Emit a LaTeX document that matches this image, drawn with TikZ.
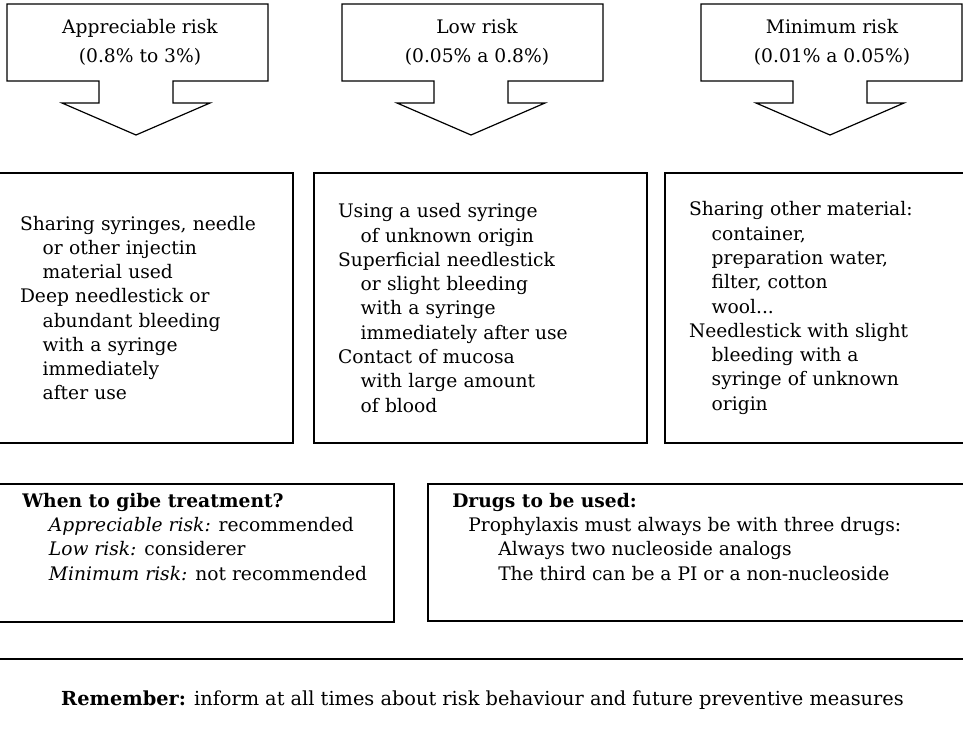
\documentclass[tikz,border=0pt]{standalone}
\usepackage{fontspec}
\setmainfont{DejaVu Serif}

\newcommand\bodyfont{\fontsize{14}{18.2}\selectfont}
\newcommand\headfont{\fontsize{14}{21.75}\selectfont}
\newcommand\ind{\hspace*{17pt}}

\tikzset{
  frame/.style={draw, line width=0.9pt},
  riskbox/.style={frame, minimum height=202.5pt, inner xsep=18pt, align=left, font=\bodyfont},
  headtext/.style={align=center, font=\headfont},
  note/.style={anchor=north west, inner sep=0pt, align=left, font=\bodyfont}
}

\begin{document}
\begin{tikzpicture}[x=0.75pt, y=-0.75pt]
    \useasboundingbox (0,0) rectangle (963,738);

    % block arrows
    \foreach \c in {136,471,830} {
      \draw[frame, line join=miter] (\c-129,4) -- (\c+132,4) -- (\c+132,81) -- (\c+37,81)
        -- (\c+37,103) -- (\c+74,103) -- (\c,135) -- (\c-74,103) -- (\c-37,103)
        -- (\c-37,81) -- (\c-129,81) -- cycle;
    }
    \node[headtext] (appr-head) at (140,42.5) {Appreciable risk\\(0.8\% to 3\%)};
    \node[headtext] (low-head) at (477,42.5) {Low risk\\(0.05\% a 0.8\%)};
    \node[headtext] (min-head) at (832,42.5) {Minimum risk\\(0.01\% a 0.05\%)};

    % situations
    \node[riskbox, minimum width=222.75pt, text width=186.75pt] (appr) at (144.5,308)
      {Sharing syringes, needle\\\ind or other injectin\\\ind material used\\Deep needlestick or\\\ind abundant bleeding\\\ind with a syringe\\\ind immediately\\\ind after use};
    \node[riskbox, minimum width=249.75pt, text width=213.75pt] (low) at (480.5,308)
      {Using a used syringe\\\ind of unknown origin\\Superficial needlestick\\\ind or slight bleeding\\\ind with a syringe\\\ind immediately after use\\Contact of mucosa\\\ind with large amount\\\ind of blood};
    \node[riskbox, minimum width=228.75pt, text width=192.75pt] (min) at (817.5,308)
      {Sharing other material:\\\ind container,\\\ind preparation water,\\\ind filter, cotton\\\ind wool...\\Needlestick with slight\\\ind bleeding with a\\\ind syringe of unknown\\\ind origin};

    % treatment
    \node[frame, minimum width=298.5pt, minimum height=103.5pt] (when) at (195,553) {};
    \node[note] (when-txt) at (22,493)
      {\textbf{When to gibe treatment?}\\\hspace*{20pt}\textit{Appreciable risk:} recommended\\\hspace*{20pt}\textit{Low risk:} considerer\\\hspace*{20pt}\textit{Minimum risk:} not recommended};
    \node[frame, minimum width=406.5pt, minimum height=102.75pt] (drugs) at (699,552.5) {};
    \node[note] (drugs-txt) at (452,493)
      {\textbf{Drugs to be used:}\\\hspace*{12pt}Prophylaxis must always be with three drugs:\\\hspace*{34.5pt}Always two nucleoside analogs\\\hspace*{34.5pt}The third can be a PI or a non-nucleoside};

    \coordinate (rule-l) at (-5,659);
    \coordinate (rule-r) at (970,659);
    \draw[frame] (rule-l) -- (rule-r);
    \node[font=\fontsize{14.5}{18}\selectfont] (remember) at (482.5,700)
      {\textbf{Remember:} inform at all times about risk behaviour and future preventive measures};
\end{tikzpicture}
\end{document}
